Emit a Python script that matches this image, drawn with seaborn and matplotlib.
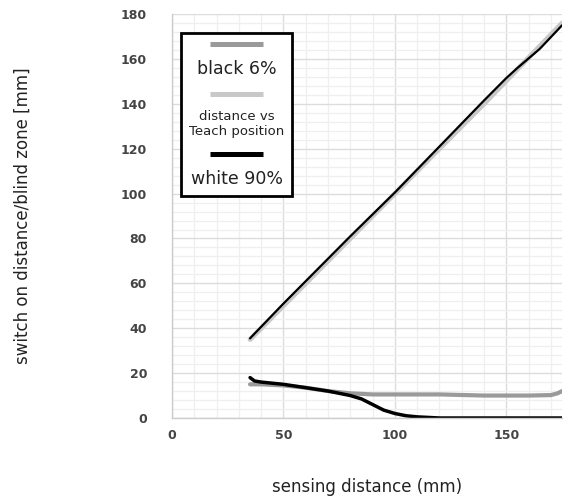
import numpy as np
import pandas as pd
import matplotlib
matplotlib.use("Agg")
import matplotlib.pyplot as plt
import seaborn as sns
from matplotlib.offsetbox import AnchoredOffsetbox, VPacker, TextArea, DrawingArea
from matplotlib.lines import Line2D
from matplotlib.ticker import MultipleLocator

# switch-on distance (upper curves)
teach_x = [35, 60, 100, 140, 175]
teach_y = [35, 60, 100, 140, 176]
white_on_x = [35, 50, 80, 100, 120, 140, 150, 155, 165, 175]
white_on_y = [35.5, 51, 81, 100.5, 121, 141.5, 151.5, 156, 164.5, 175]

# blind zone (lower curves)
black_bz_x = [35, 40, 50, 60, 70, 80, 90, 100, 120, 140, 160, 170, 173, 175]
black_bz_y = [15, 15, 14.5, 13.5, 12, 11, 10.5, 10.5, 10.5, 10, 10, 10.2, 11, 12]
white_bz_x = [35, 37, 40, 50, 60, 70, 80, 85, 90, 95, 100, 105, 110, 120, 140, 175]
white_bz_y = [18, 16.5, 16, 15, 13.5, 12, 10, 8.5, 6, 3.5, 2, 1, 0.5, 0, 0, 0]

sns.set_style("white")
plt.rcParams['font.family'] = ['DejaVu Sans']

fig = plt.figure(figsize=(5.66, 5.03), dpi=100)
ax = fig.add_axes([0.304, 0.169, 0.689, 0.803])

c_black6 = "#9a9a9a"
c_teach = "#c8c8c8"
c_white90 = "#000000"

sns.lineplot(x=teach_x, y=teach_y, ax=ax, color=c_teach, linewidth=3.5, estimator=None)
sns.lineplot(x=white_on_x, y=white_on_y, ax=ax, color=c_white90, linewidth=1.6, estimator=None)
sns.lineplot(x=black_bz_x, y=black_bz_y, ax=ax, color=c_black6, linewidth=3, estimator=None)
sns.lineplot(x=white_bz_x, y=white_bz_y, ax=ax, color=c_white90, linewidth=2.5, estimator=None)

ax.set_xlim(0, 175)
ax.set_ylim(0, 180)
ax.xaxis.set_major_locator(MultipleLocator(50))
ax.xaxis.set_minor_locator(MultipleLocator(10))
ax.yaxis.set_major_locator(MultipleLocator(20))
ax.yaxis.set_minor_locator(MultipleLocator(4))
ax.grid(which="major", color="#dcdcdc", linewidth=1)
ax.grid(which="minor", color="#efefef", linewidth=0.9)
ax.set_axisbelow(True)
ax.tick_params(which="both", length=0)
ax.tick_params(axis="y", pad=18)
ax.tick_params(axis="x", pad=8)
for lab in ax.get_xticklabels() + ax.get_yticklabels():
    lab.set_fontweight("bold")
    lab.set_fontsize(9)
    lab.set_color("#444444")
for s in ["top", "right"]:
    ax.spines[s].set_visible(False)
for s in ["left", "bottom"]:
    ax.spines[s].set_color("#cccccc")
    ax.spines[s].set_linewidth(1)

ax.set_xlabel("sensing distance (mm)", fontsize=12, color="#222222", labelpad=26)
ax.set_ylabel("switch on distance/blind zone [mm]", fontsize=12, color="#222222", labelpad=64)


def handle(color):
    da = DrawingArea(38, 5, 0, 0)
    da.add_artist(Line2D([0, 38], [2.5, 2.5], color=color, linewidth=3.6,
                         solid_capstyle="butt"))
    return da


items = [
    handle(c_black6),
    TextArea("black 6%", textprops=dict(fontsize=12.5, color="#222222")),
    handle(c_teach),
    TextArea("distance vs\nTeach position", textprops=dict(fontsize=9.5, color="#222222", multialignment="center")),
    handle(c_white90),
    TextArea("white 90%", textprops=dict(fontsize=12.5, color="#222222")),
]
box = VPacker(children=items, align="center", pad=0, sep=9)
anch = AnchoredOffsetbox(loc="upper left", child=box, pad=0.55, borderpad=0,
                         frameon=True, bbox_to_anchor=(0.024, 0.953), bbox_transform=ax.transAxes)
anch.patch.set_edgecolor("#000000")
anch.patch.set_linewidth(2)
anch.patch.set_boxstyle("square", pad=0)
ax.add_artist(anch)

fig.savefig("out.png", dpi=100)
